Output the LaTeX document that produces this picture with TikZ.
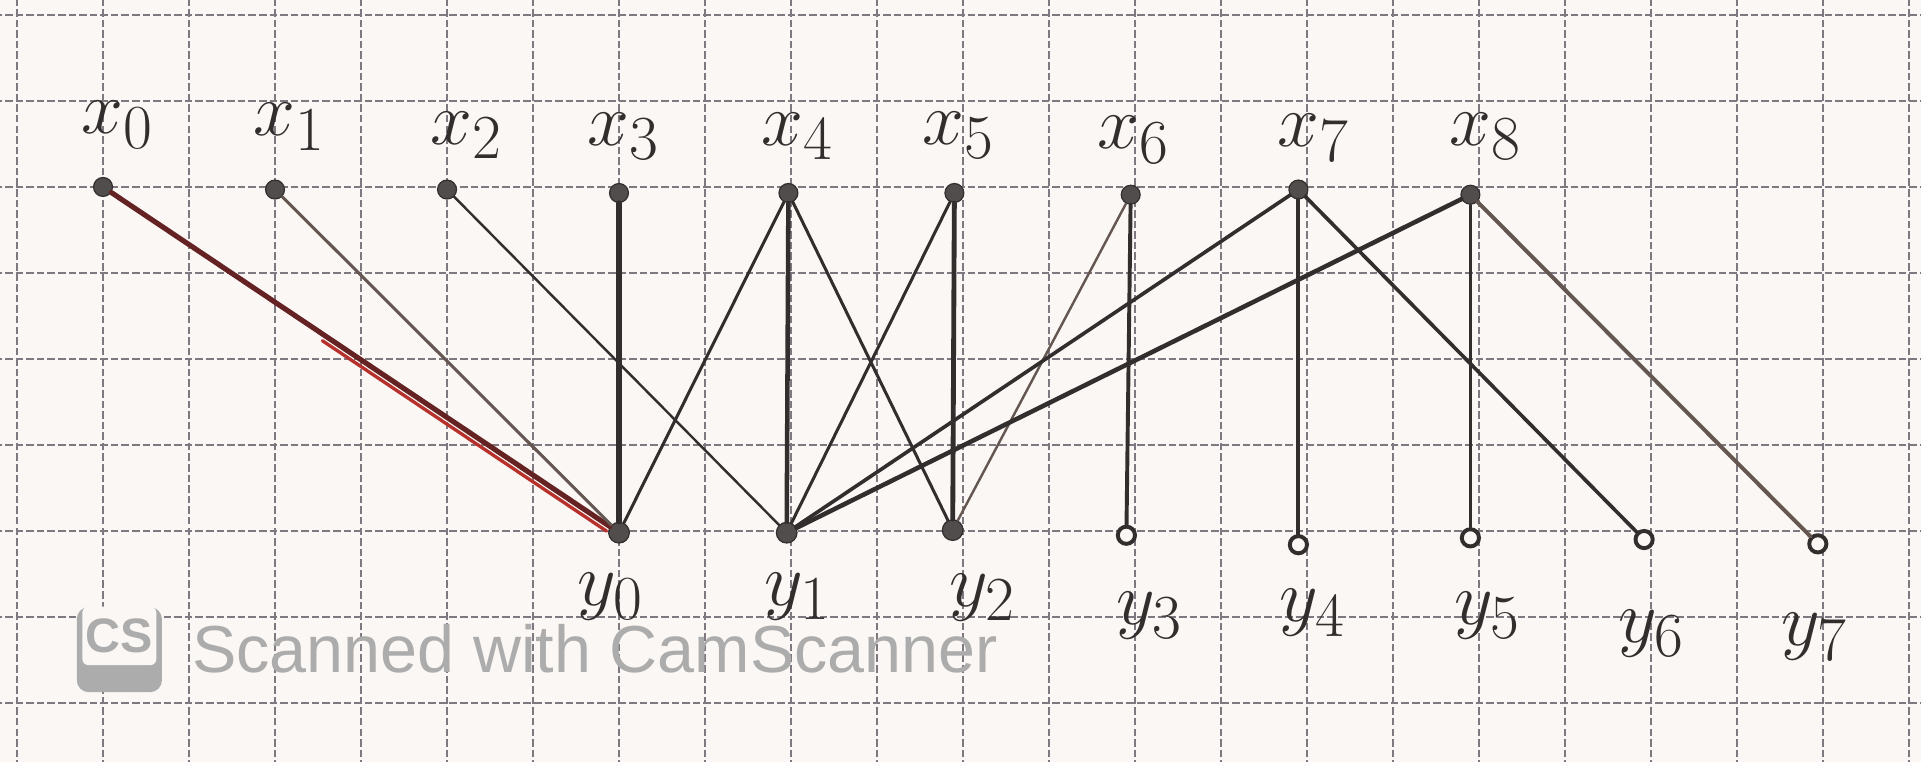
\documentclass[tikz,border=0pt]{standalone}
\usepackage{amsmath}
\usepackage{amssymb}
\usepackage{fontspec}
\newfontfamily\marcafont{Liberation Sans}
\usepackage{tikz}

\definecolor{papel}{RGB}{250,247,244}
\definecolor{cuadro}{RGB}{128,120,128}
\definecolor{lapiz}{RGB}{50,46,46}
\definecolor{lapizc}{RGB}{100,86,80}
\definecolor{rojo}{RGB}{205,50,42}
\definecolor{marca}{RGB}{172,172,172}

\begin{document}
\begin{tikzpicture}[dot/.style = {draw=lapiz,fill=lapiz!85,circle,inner sep=0pt,minimum size=0.22cm},
hueco/.style = {draw=lapiz,fill=papel,circle,inner sep=0pt,line width=1.3pt,minimum size=0.2cm},
lbl/.style = {text=lapiz,inner sep=0pt,font=\Huge},
arista/.style = {lapiz,line width=1pt,line cap=round}]
%hoja cuadriculada
\useasboundingbox (-0.198,0.174) rectangle (22.14,-8.686);
\fill[papel] (-0.198,0.174) rectangle (22.14,-8.686);
\begin{scope}
\clip (-0.198,0.174) rectangle (22.14,-8.686);
\draw[cuadro,line width=0.4pt,dash pattern=on 2.5pt off 1pt] (-1,1) grid (23,-9);
\end{scope}

\node (x0) at (1,-2) [dot] {};
\node (x1) at (3,-2.03) [dot] {};
\node (x2) at (5,-2.03) [dot] {};
\node (x3) at (7,-2.07) [dot] {};
\node (x4) at (8.97,-2.07) [dot] {};
\node (x5) at (10.9,-2.07) [dot] {};
\node (x6) at (12.95,-2.09) [dot] {};
\node (x7) at (14.9,-2.03) [dot] {};
\node (x8) at (16.9,-2.09) [dot] {};

\node (y0) at (7,-6.02) [dot,minimum size=0.24cm] {};
\node (y1) at (8.95,-6.02) [dot,minimum size=0.24cm] {};
\node (y2) at (10.88,-5.99) [dot,minimum size=0.24cm] {};
\node (y3) at (12.9,-6.05) [hueco] {};
\node (y4) at (14.9,-6.16) [hueco] {};
\node (y5) at (16.9,-6.08) [hueco] {};
\node (y6) at (18.92,-6.1) [hueco] {};
\node (y7) at (20.94,-6.15) [hueco] {};

\node (lx0) at (1.17,-1.28) [lbl] {$x_0$};
\node (lx1) at (3.17,-1.3) [lbl] {$x_1$};
\node (lx2) at (5.23,-1.4) [lbl] {$x_2$};
\node (lx3) at (7.05,-1.41) [lbl] {$x_3$};
\node (lx4) at (9.08,-1.41) [lbl] {$x_4$};
\node (lx5) at (10.95,-1.4) [lbl] {$x_5$};
\node (lx6) at (12.98,-1.45) [lbl] {$x_6$};
\node (lx7) at (15.08,-1.43) [lbl] {$x_7$};
\node (lx8) at (17.08,-1.41) [lbl] {$x_8$};

\node (ly0) at (6.9,-6.76) [lbl] {$y_0$};
\node (ly1) at (9.08,-6.76) [lbl] {$y_1$};
\node (ly2) at (11.23,-6.77) [lbl] {$y_2$};
\node (ly3) at (13.17,-6.98) [lbl] {$y_3$};
\node (ly4) at (15.07,-6.95) [lbl] {$y_4$};
\node (ly5) at (17.1,-6.98) [lbl] {$y_5$};
\node (ly6) at (19.01,-7.19) [lbl] {$y_6$};
\node (ly7) at (20.9,-7.23) [lbl] {$y_7$};

%aristas
\draw[arista,rojo!85!lapiz,line width=1.1pt,shorten <=3cm,transform canvas={xshift=-1.1pt,yshift=-1.5pt}] (x0) -- (y0);
\draw[arista,lapiz!75!red,line width=1.7pt] (x0) -- (y0);
\draw[arista,lapizc] (x1) -- (y0);
\draw[arista,line width=0.8pt] (x2) -- (y1);
\draw[arista,line width=1.7pt] (x3) -- (y0);
\draw[arista] (x4) -- (y0);
\draw[arista,line width=1.5pt] (x4) -- (y1);
\draw[arista] (x4) -- (y2);
\draw[arista] (x5) -- (y1);
\draw[arista,line width=1.6pt] (x5) -- (y2);
\draw[arista,lapizc,line width=0.8pt] (x6) -- (y2);
\draw[arista,line width=1.3pt] (x6) -- (y3);
\draw[arista,line width=1.2pt] (x7) -- (y1);
\draw[arista,line width=1.3pt] (x7) -- (y4);
\draw[arista,line width=1.2pt] (x7) -- (y6);
\draw[arista,line width=1.5pt] (x8) -- (y1);
\draw[arista] (x8) -- (y5);
\draw[arista,lapizc,line width=1.3pt] (x8) -- (y7);

%marca del escaner
\node (cs) at (1.19,-7.38) [fill=marca,rounded corners=4pt,minimum width=0.99cm,minimum height=0.99cm,inner sep=0pt] {};
\node (csin) at (1.19,-7.22) [fill=papel,rounded corners=2pt,minimum width=0.86cm,minimum height=0.68cm,inner sep=0pt] {};
\node (cstxt) at (csin) [text=marca,font=\marcafont\bfseries\fontsize{16}{16}\selectfont,inner sep=0pt] {CS};
\node (scan) at (2.03,-7.65) [anchor=base west,text=marca,font=\marcafont\fontsize{22}{22}\selectfont,inner sep=0pt] {Scanned with CamScanner};
\end{tikzpicture}
\end{document}
